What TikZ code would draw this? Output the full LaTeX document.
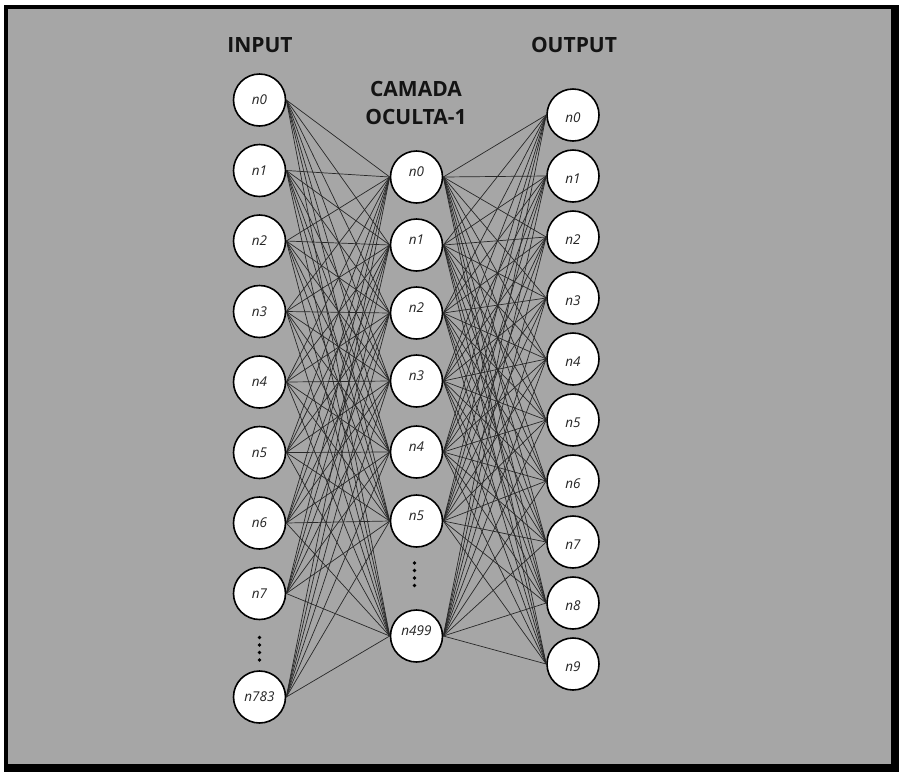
\documentclass[tikz,border=0pt]{standalone}
\usepackage{fontspec}
\setmainfont{Open Sans}
\definecolor{bggray}{RGB}{166,166,166}
\definecolor{edgecol}{RGB}{40,40,40}
\begin{document}
\begin{tikzpicture}[x=1pt,y=-1pt,
  neuron/.style={circle,draw=black,line width=1.6pt,fill=white,minimum size=52pt,inner sep=0pt,
    font=\fontsize{13.5}{16}\selectfont\itshape,text=black!85},
  hidtext/.style={text height=5pt,text depth=5.4pt},
  outtext/.style={text height=15.6pt,text depth=0pt},
  title/.style={font=\fontsize{21}{28}\selectfont\bfseries,text=black!92,align=center},
  link/.style={draw=edgecol,line width=0.7pt},
  dotmark/.style={circle,fill=black,inner sep=0pt,minimum size=3.6pt}]
\useasboundingbox (0,0) rectangle (899,772);
\fill[white] (0,0) rectangle (899,772);
\fill[black] (4,5) rectangle (899,772);
\fill[bggray] (8,9) rectangle (891,764);

% titles
\node[title] (tin) at (260,45) {INPUT};
\node[title] (thid) at (416,103) {CAMADA\\OCULTA-1};
\node[title] (tout) at (574,44.5) {OUTPUT};

% input layer
\foreach \y/\t [count=\i from 0] in {100/n0,170.5/n1,241/n2,311.5/n3,382/n4,452.5/n5,523/n6,593.5/n7,697/n783}
  \node[neuron] (i\i) at (259.5,\y) {\t};
% hidden layer
\foreach \y/\t [count=\i from 0] in {177/n0,245/n1,313/n2,381/n3,452/n4,521/n5,636/n499}
  \node[neuron,hidtext] (h\i) at (416.5,\y) {\t};
% output layer
\foreach \y/\t [count=\i from 0] in {115/n0,176/n1,237/n2,298/n3,359/n4,420/n5,481/n6,542/n7,603/n8,664/n9}
  \node[neuron,outtext] (o\i) at (573,\y) {\t};

% connections
\foreach \a in {0,...,8}
  \foreach \b in {0,...,6}
    \draw[link] (i\a.east) -- (h\b.west);
\foreach \a in {0,...,6}
  \foreach \b in {0,...,9}
    \draw[link] (h\a.east) -- (o\b.west);

% ellipsis dots
\foreach \k in {0,...,3}
  \node[dotmark] (di\k) at (259.5,637.5+7.5*\k) {};
\foreach \k in {0,...,3}
  \node[dotmark] (dh\k) at (414.5,563+7.5*\k) {};
\end{tikzpicture}
\end{document}
